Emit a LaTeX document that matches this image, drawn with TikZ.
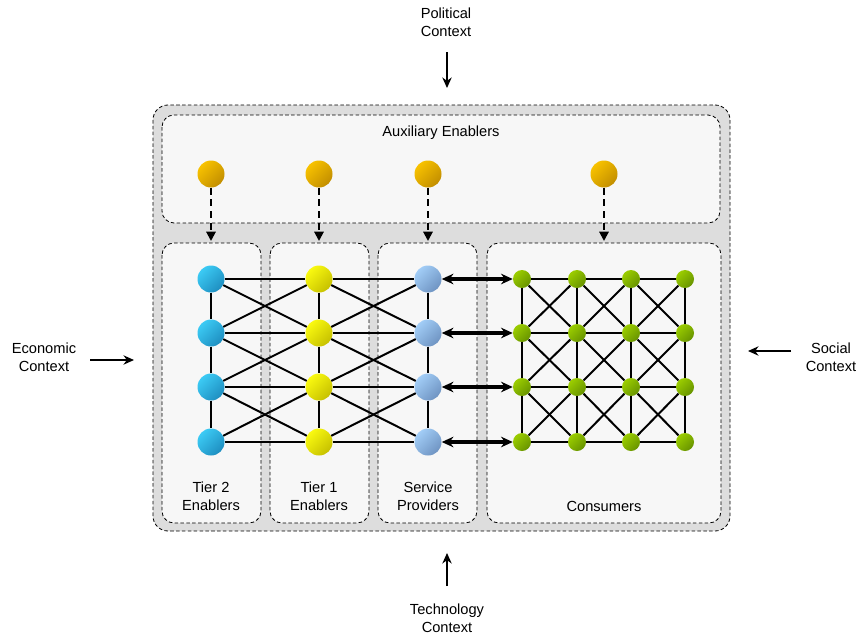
\documentclass[tikz,border=0pt]{standalone}
\usepackage{fontspec}
\setmainfont{Liberation Sans}
\usetikzlibrary{arrows.meta}
\usetikzlibrary{positioning}
\definecolor{rahmengrau}{HTML}{DDDDDD}
\definecolor{feldgrau}{HTML}{F7F7F7}
\definecolor{tzweihell}{HTML}{3CCBF5}
\definecolor{tzweidunkel}{HTML}{1E8EC0}
\definecolor{teinshell}{HTML}{FAFA10}
\definecolor{teinsdunkel}{HTML}{C6C000}
\definecolor{sphell}{HTML}{A2CDF7}
\definecolor{spdunkel}{HTML}{6F94C2}
\definecolor{konshell}{HTML}{9BCD00}
\definecolor{konsdunkel}{HTML}{679300}
\definecolor{auxhell}{HTML}{F8C200}
\definecolor{auxdunkel}{HTML}{C28E00}

\begin{document}
\begin{tikzpicture}[x=0.03cm, y=-0.03cm, % Pixelraster, y nach unten
    font=\fontsize{12.5}{15}\selectfont,
    rahmen/.style={draw=black, dash pattern=on 3pt off 2pt, line width=0.7pt, rounded corners=0.36cm},
    ball/.style 2 args={circle, inner sep=0pt, minimum size=0.81cm, top color=#1, bottom color=#2, shading angle=45},
    kante/.style={line width=1.7pt},
    doppelpfeil/.style={{Stealth[length=10pt,width=9pt]}-{Stealth[length=10pt,width=9pt]}, line width=2.6pt},
    hilfspfeil/.style={-{Triangle[length=8pt,width=8pt]}, line width=1.7pt, dash pattern=on 6pt off 4pt},
    kontextpfeil/.style={-{Stealth[length=9pt,width=8pt]}, line width=1.9pt},
    kontext/.style={align=center, inner sep=0pt}]

    \useasboundingbox (0,0) rectangle (856,636);

    % Rahmen und Felder
    \draw[rahmen, fill=rahmengrau, rounded corners=0.45cm] (153,105) rectangle (730,531);
    \draw[rahmen, fill=feldgrau] (162,115) rectangle (720,223);
    \draw[rahmen, fill=feldgrau] (162,243) rectangle (261,523);
    \draw[rahmen, fill=feldgrau] (270,243) rectangle (369,523);
    \draw[rahmen, fill=feldgrau] (378,243) rectangle (477,523);
    \draw[rahmen, fill=feldgrau] (487,243) rectangle (721,523);

    % Beschriftung der Felder
    \node (aux-label) at (441,133) {Auxiliary Enablers};
    \node[kontext] (t2-label) at (211,496) {Tier 2\\Enablers};
    \node[kontext] (t1-label) at (319,496) {Tier 1\\Enablers};
    \node[kontext] (sp-label) at (428,496) {Service\\Providers};
    \node (c-label) at (604,506) {Consumers};

    % Knoten der Spalten und das Gitter der Consumers
    \foreach \i/\y in {1/279, 2/333, 3/387, 4/442} {
        \node[ball={tzweihell}{tzweidunkel}] (t2-\i) at (211,\y) {};
        \node[ball={teinshell}{teinsdunkel}] (t1-\i) at (319,\y) {};
        \node[ball={sphell}{spdunkel}] (sp-\i) at (428,\y) {};
        \foreach \j/\x in {1/522, 2/577, 3/631, 4/685}
            \node[ball={konshell}{konsdunkel}, minimum size=0.54cm] (c-\i-\j) at (\x,\y) {};
    }

    % Auxiliary Enablers mit gestrichelten Pfeilen
    \foreach \k/\x in {1/211, 2/319, 3/428, 4/604} {
        \node[ball={auxhell}{auxdunkel}] (aux-\k) at (\x,174) {};
        \coordinate (auxend-\k) at (\x,241);
        \draw[hilfspfeil] (aux-\k) -- (auxend-\k);
    }

    % Waagrechte Kanten
    \foreach \i in {1,...,4} {
        \draw[kante] (t2-\i) -- (t1-\i);
        \draw[kante] (t1-\i) -- (sp-\i);
        \draw[doppelpfeil] (sp-\i) -- (c-\i-1);
        \foreach \j in {1,2,3} {
            \pgfmathtruncatemacro\m{\j+1}
            \draw[kante] (c-\i-\j) -- (c-\i-\m);
        }
    }

    % Senkrechte und schraege Kanten
    \foreach \i in {1,2,3} {
        \pgfmathtruncatemacro\n{\i+1}
        \draw[kante] (t2-\i) -- (t2-\n);
        \draw[kante] (t1-\i) -- (t1-\n);
        \draw[kante] (sp-\i) -- (sp-\n);
        \draw[kante] (t2-\i) -- (t1-\n);
        \draw[kante] (t2-\n) -- (t1-\i);
        \draw[kante] (t1-\i) -- (sp-\n);
        \draw[kante] (t1-\n) -- (sp-\i);
        \foreach \j in {1,...,4}
            \draw[kante] (c-\i-\j) -- (c-\n-\j);
        \foreach \j in {1,2,3} {
            \pgfmathtruncatemacro\m{\j+1}
            \draw[kante] (c-\i-\j) -- (c-\n-\m);
            \draw[kante] (c-\i-\m) -- (c-\n-\j);
        }
    }

    % Kontexte aussen
    \node[kontext] (pol) at (446,22) {Political\\Context};
    \node[kontext] (tech) at (447,618) {Technology\\Context};
    \node[kontext] (eco) at (44,357) {Economic\\Context};
    \node[kontext] (soc) at (831,357) {Social\\Context};
    \coordinate (pol-a) at (447,52);   \coordinate (pol-b) at (447,88);
    \coordinate (tech-a) at (447,586); \coordinate (tech-b) at (447,553);
    \coordinate (eco-a) at (90,360);   \coordinate (eco-b) at (134,360);
    \coordinate (soc-a) at (791,351);  \coordinate (soc-b) at (748,351);
    \foreach \c in {pol, tech, eco, soc}
        \draw[kontextpfeil] (\c-a) -- (\c-b);

\end{tikzpicture}
\end{document}
